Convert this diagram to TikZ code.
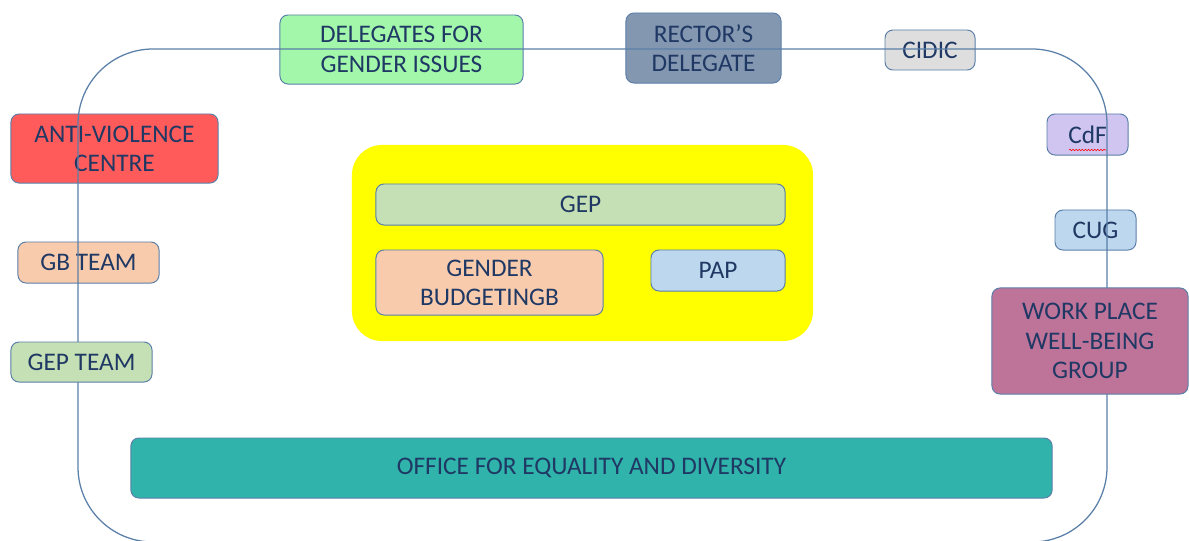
\documentclass[tikz,border=0pt]{standalone}
\usepackage{fontspec}
\setmainfont{Carlito}
\usetikzlibrary{decorations.pathmorphing}

\definecolor{txtblue}{HTML}{1F3864}
\definecolor{edgeblue}{HTML}{5A7FA8}
\definecolor{delegreen}{HTML}{A2F7AA}
\definecolor{rectorgrey}{HTML}{8497B0}
\definecolor{cidicgrey}{HTML}{DEDEDE}
\definecolor{avred}{HTML}{FF5B5B}
\definecolor{cdflilac}{HTML}{D0C4F0}
\definecolor{peach}{HTML}{F8CBAD}
\definecolor{paleblue}{HTML}{BDD7EE}
\definecolor{palegreen}{HTML}{C5E0B4}
\definecolor{mauve}{HTML}{BE7399}
\definecolor{teal}{HTML}{2FB3AA}
\definecolor{coreyellow}{HTML}{FFFF00}

\begin{document}
\begin{tikzpicture}[
    x=0.025cm, y=-0.025cm,
    box/.style={rectangle, rounded corners=0.2cm, draw=edgeblue, line width=0.7pt,
        text=txtblue, align=center, inner sep=0pt,
        font=\fontsize{18}{20.8}\selectfont},
    outline/.style={draw=edgeblue, line width=0.9pt, rounded corners=1.875cm}
]
    \useasboundingbox (0,0) rectangle (1189,540);

    % Blocco centrale
    \node[rectangle, rounded corners=0.75cm, fill=coreyellow, minimum width=11.525cm, minimum height=4.9cm] (core) at (582.5,243) {};
    \node[box, fill=palegreen, minimum width=10.225cm, minimum height=1.025cm] (gep) at (580.5,204.5) {GEP};
    \node[box, fill=peach, minimum width=5.675cm, minimum height=1.625cm] (gb) at (489.5,282.5) {GENDER\\BUDGETINGB};
    \node[box, fill=paleblue, minimum width=3.35cm, minimum height=1.025cm] (pap) at (718,270.5) {PAP};

    % Ufficio
    \node[box, fill=teal, minimum width=23.025cm, minimum height=1.5cm] (office) at (591.5,468) {OFFICE FOR EQUALITY AND DIVERSITY};

    % Bordo in alto
    \node[box, fill=delegreen, minimum width=6.075cm, minimum height=1.725cm] (deleg) at (401.5,49.5) {DELEGATES FOR\\GENDER ISSUES};
    \node[box, fill=rectorgrey, minimum width=3.875cm, minimum height=1.75cm] (rector) at (703.5,48) {RECTOR’S\\DELEGATE};
    \node[box, fill=cidicgrey, minimum width=2.25cm, minimum height=1cm] (cidic) at (930,50) {CIDIC};

    % Bordo a sinistra
    \node[box, fill=avred, minimum width=5.175cm, minimum height=1.725cm] (antiv) at (114.5,148.5) {ANTI-VIOLENCE\\CENTRE};
    \node[box, fill=peach, minimum width=3.525cm, minimum height=1.025cm] (gbteam) at (88.5,262.5) {GB TEAM};

    % Bordo a destra
    \node[box, fill=cdflilac, minimum width=2.025cm, minimum height=1.025cm] (cdf) at (1087.5,134.5) {CdF};
    \draw[red, line width=0.4pt, decorate, decoration={snake, amplitude=0.5pt, segment length=2.2pt}] (1069,150) -- (1106,150);
    \node[box, fill=paleblue, minimum width=2.025cm, minimum height=1cm] (cug) at (1095.5,230) {CUG};

    % Contorno
    \draw[outline] (78,49) rectangle (1107,542);

    % Sopra il contorno
    \node[box, fill=palegreen, minimum width=3.525cm, minimum height=1cm] (gepteam) at (81.5,362) {GEP TEAM};
    \node[box, fill=mauve, minimum width=4.9cm, minimum height=2.65cm] (wellb) at (1090,341) {WORK PLACE\\WELL-BEING\\GROUP};
\end{tikzpicture}
\end{document}
